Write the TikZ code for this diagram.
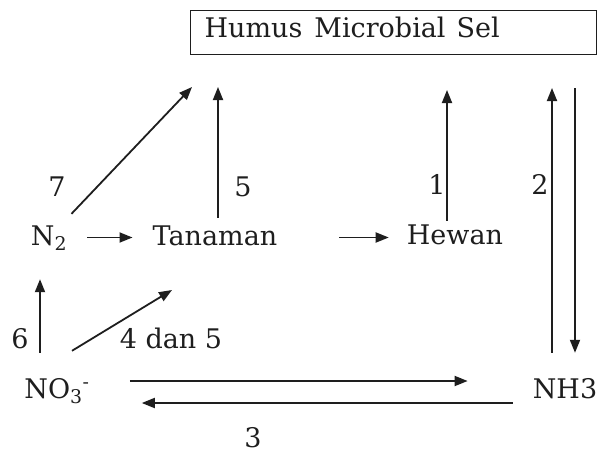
\documentclass[tikz,border=0pt]{standalone}
\usepackage{fontspec}
\setmainfont{DejaVu Serif}
\usetikzlibrary{arrows.meta}
\definecolor{ink}{HTML}{1E1E1E}
\tikzset{
  term/.style={anchor=base,inner sep=2pt,text height=21pt,text depth=6pt},
  num/.style={anchor=base,inner sep=1pt},
  flow/.style={-{Triangle[length=13pt,width=10pt]},line width=1.8pt,ink}
}

\begin{document}
\begin{tikzpicture}[x=1pt,y=-1pt,font=\fontsize{27}{32}\selectfont,color=ink]
  \useasboundingbox (0,0) rectangle (597,452);
  % pool at the top
  \node[draw,line width=1.3pt,anchor=north west,inner xsep=14pt,inner ysep=0pt,
        text width=378pt,text height=21pt,text depth=11pt,minimum height=44pt,align=left]
        (sel) at (190,10) {Humus\hspace{12pt}Microbial\hspace{11pt}Sel};
  % compartments
  \node[term] (ntwo) at (49,245) {N\textsubscript{2}};
  \node[term] (tanaman) at (215,245) {Tanaman};
  \node[term] (hewan) at (455,244) {Hewan};
  \node[term] (nothree) at (57,398) {NO\textsubscript{3}\textsuperscript{-}};
  \node[term] (nhthree) at (565,398) {NH3};
  % ends below the pool
  \coordinate (s7) at (192,87);
  \coordinate (s5) at (218,87);
  \coordinate (s1) at (447,90);
  \coordinate (s2u) at (552,88);
  \coordinate (s2d) at (575,88);
  \coordinate (e45) at (172,290);
  % transfers
  \draw[flow,shorten <=11pt] (ntwo) -- (s7);
  \draw[flow,shorten <=4pt] (tanaman.north -| s5) -- (s5);
  \draw[flow] (hewan.north -| s1) -- (s1);
  \draw[flow,shorten <=22pt] (nhthree.north -| s2u) -- (s2u);
  \draw[flow,shorten >=22pt] (s2d) -- (nhthree.north -| s2d);
  \draw[flow,shorten <=18pt,shorten >=18pt] (ntwo.east) -- (tanaman.west);
  \draw[flow,shorten <=60pt,shorten >=16pt] (tanaman.east) -- (tanaman.east -| hewan.west);
  \draw[flow,shorten <=22pt,shorten >=26pt] ([xshift=-17pt]nothree.north) -- ([xshift=-9pt]ntwo.south);
  \draw[flow] ([xshift=15pt,yshift=24pt]nothree.north) -- (e45);
  \draw[flow,shorten <=38pt,shorten >=63pt] ([yshift=9.5pt]nothree.east) -- ([yshift=9.5pt]nothree.east -| nhthree.west);
  \draw[flow,shorten <=18pt,shorten >=50pt] ([yshift=-12.5pt]nhthree.west) -- ([yshift=-12.5pt]nhthree.west -| nothree.east);
  % step numbers
  \node[num] (n7) at (57,196) {7};
  \node[num] (n5) at (243,196) {5};
  \node[num] (n1) at (437,194) {1};
  \node[num] (n2) at (540,194) {2};
  \node[num] (n6) at (20,348) {6};
  \node[num] (n45) at (171,348) {4 dan 5};
  \node[num] (n3) at (253,447) {3};
\end{tikzpicture}
\end{document}
